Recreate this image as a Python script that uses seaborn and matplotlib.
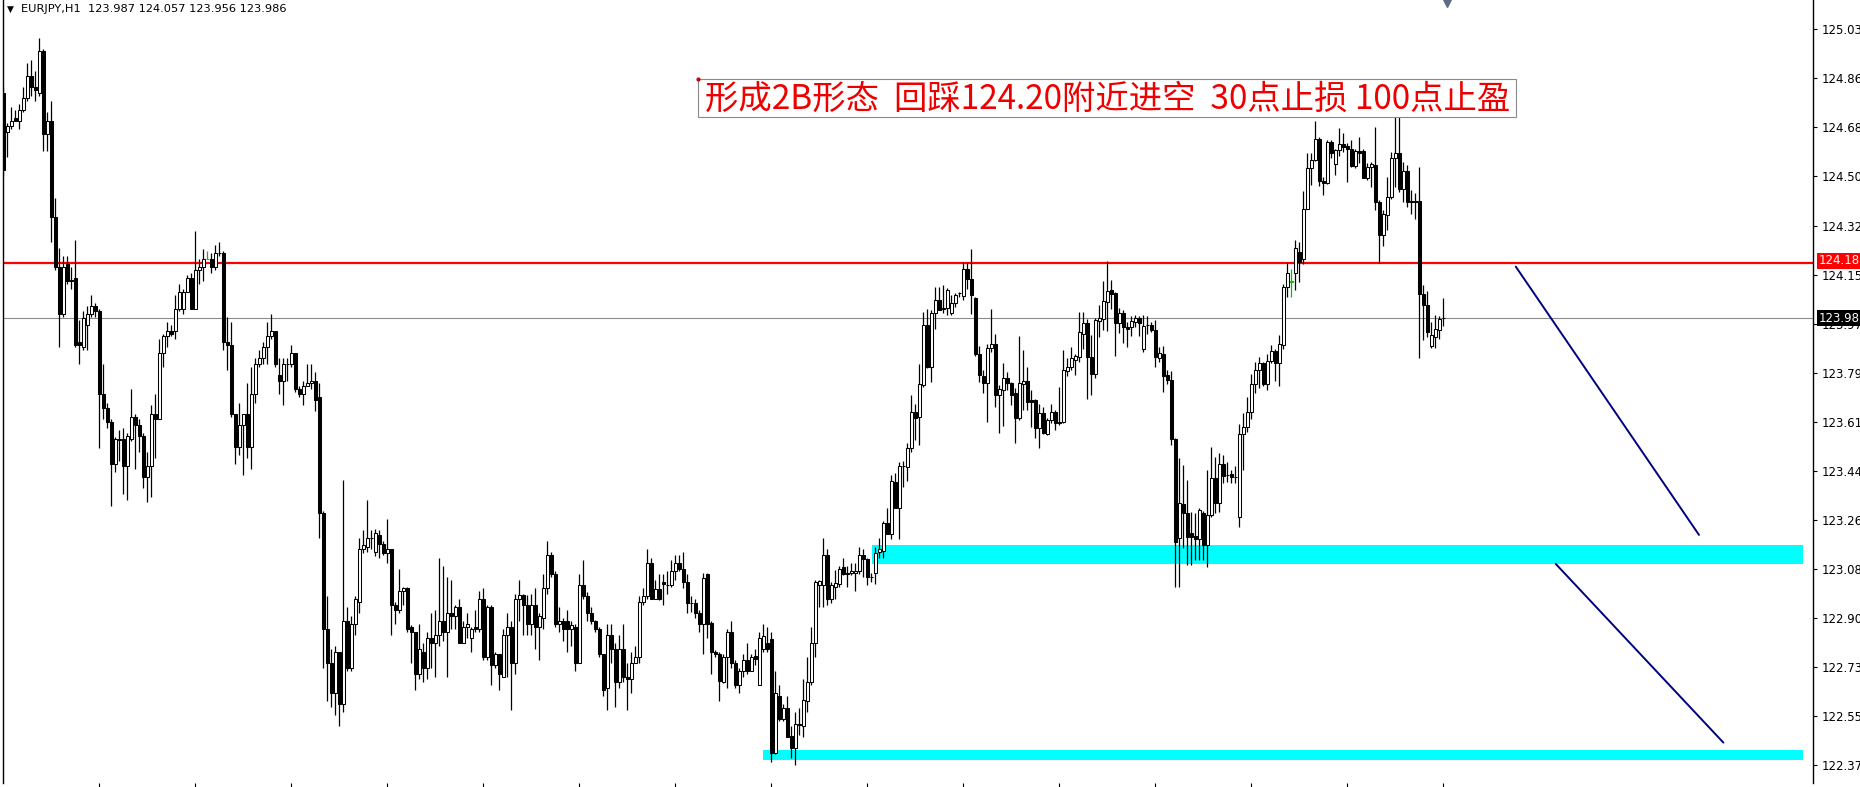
import numpy as np
import pandas as pd
import matplotlib
matplotlib.use('Agg')
import matplotlib.pyplot as plt
from matplotlib.patches import Rectangle
import seaborn as sns

# EURJPY H1 candles (oldest -> newest)
opens = [
    124.80, 124.66, 124.68, 124.71, 124.70, 124.74, 124.78, 124.86, 124.82, 124.80,
    124.95, 124.65, 124.70, 124.35, 124.17, 124.00, 124.18, 124.125, 124.13, 123.90,
    123.88, 123.96, 124.00, 124.03, 124.01, 123.71, 123.66, 123.61, 123.46, 123.55,
    123.55, 123.45, 123.55, 123.63, 123.60, 123.56, 123.41, 123.45, 123.64, 123.62,
    123.86, 123.92, 123.94, 123.94, 124.02, 124.02, 124.08, 124.13, 124.02, 124.16,
    124.17, 124.20, 124.20, 124.17, 124.22, 124.22, 123.90, 123.89, 123.64, 123.52,
    123.60, 123.64, 123.52, 123.71, 123.82, 123.84, 123.88, 123.92, 123.94, 123.78,
    123.76, 123.82, 123.82, 123.86, 123.73, 123.71, 123.74, 123.75, 123.76, 123.70,
    123.28, 122.86, 122.74, 122.63, 122.78, 122.59, 122.89, 122.72, 122.88, 122.96,
    123.15, 123.16, 123.19, 123.14, 123.20, 123.17, 123.135, 123.15, 122.95, 122.93,
    123.00, 123.01, 122.87, 122.85, 122.70, 122.78, 122.72, 122.83, 122.81, 122.84,
    122.89, 122.85, 122.92, 122.91, 122.94, 122.81, 122.87, 122.83, 122.87, 122.86,
    122.97, 122.76, 122.94, 122.73, 122.77, 122.69, 122.84, 122.87, 122.74, 122.97,
    122.985, 122.95, 122.88, 122.95, 122.87, 122.90, 123.01, 123.13, 123.06, 122.88,
    122.89, 122.89, 122.86, 122.87, 122.74, 123.02, 122.98, 122.92, 122.89, 122.86,
    122.77, 122.65, 122.84, 122.79, 122.67, 122.79, 122.69, 122.68, 122.74, 122.76,
    122.96, 122.98, 123.10, 122.97, 123.005, 123.03, 123.02, 123.02, 123.07, 123.10,
    123.08, 123.03, 122.955, 122.955, 122.92, 122.88, 123.06, 122.885, 122.78, 122.77,
    122.67, 122.76, 122.85, 122.74, 122.66, 122.71, 122.75, 122.71, 122.765, 122.66,
    122.79, 122.81, 122.825, 122.415, 122.62, 122.535, 122.575, 122.475, 122.43, 122.515,
    122.51, 122.60, 122.67, 122.81, 123.02, 123.02, 123.13, 122.97, 123.015, 123.025,
    123.085, 123.063, 123.063, 123.065, 123.07, 123.13, 123.115, 123.05, 123.063, 123.14,
    123.145, 123.245, 123.207, 123.395, 123.30, 123.45, 123.446, 123.515, 123.647, 123.627,
    123.744, 123.96, 123.81, 124.003, 124.053, 124.02, 124.024, 124.005, 124.039, 124.075,
    124.065, 124.165, 124.129, 124.057, 123.856, 123.776, 123.75, 123.876, 123.894, 123.707,
    123.726, 123.768, 123.75, 123.714, 123.623, 123.748, 123.76, 123.689, 123.689, 123.587,
    123.641, 123.567, 123.617, 123.647, 123.611, 123.611, 123.796, 123.81, 123.835, 123.846,
    123.93, 123.967, 123.846, 123.783, 123.976, 123.981, 124.045, 124.087, 124.075, 123.967,
    124.003, 123.954, 123.952, 123.973, 123.988, 123.873, 123.961, 123.961, 123.942, 123.84,
    123.856, 123.78, 123.762, 123.547, 123.19, 123.313, 123.28, 123.21, 123.198, 123.186,
    123.282, 123.165, 123.274, 123.406, 123.318, 123.46, 123.42, 123.422, 123.413, 123.268,
    123.567, 123.591, 123.647, 123.747, 123.80, 123.822, 123.747, 123.832, 123.868, 123.822,
    123.888, 124.097, 124.118, 124.15, 124.226, 124.198, 124.382, 124.527, 124.559, 124.632,
    124.482, 124.473, 124.623, 124.543, 124.593, 124.615, 124.608, 124.596, 124.535, 124.591,
    124.591, 124.494, 124.533, 124.539, 124.406, 124.286, 124.358, 124.422, 124.563, 124.584,
    124.451, 124.519, 124.41, 124.41, 124.41, 124.073, 124.033, 123.885, 123.918, 123.942,
    123.987,
]
highs = [
    124.82, 124.69, 124.75, 124.74, 124.76, 124.82, 124.91, 124.92, 124.88, 125.00,
    124.96, 124.73, 124.77, 124.42, 124.24, 124.21, 124.21, 124.17, 124.27, 123.98,
    124.01, 124.03, 124.07, 124.04, 124.02, 123.82, 123.68, 123.62, 123.555, 123.58,
    123.59, 123.57, 123.73, 123.64, 123.62, 123.57, 123.50, 123.67, 123.71, 123.91,
    123.93, 123.97, 123.96, 124.07, 124.11, 124.09, 124.14, 124.15, 124.30, 124.20,
    124.235, 124.23, 124.22, 124.25, 124.26, 124.23, 123.99, 123.97, 123.64, 123.68,
    123.64, 123.75, 123.81, 123.84, 123.87, 123.90, 123.97, 124.00, 123.94, 123.84,
    123.84, 123.84, 123.89, 123.86, 123.74, 123.76, 123.82, 123.82, 123.79, 123.75,
    123.29, 122.98, 122.79, 122.80, 122.78, 123.40, 122.94, 122.91, 122.98, 123.19,
    123.22, 123.33, 123.22, 123.225, 123.22, 123.18, 123.26, 123.15, 122.96, 123.08,
    123.015, 123.015, 122.875, 122.85, 122.88, 122.81, 122.85, 122.92, 122.93, 123.12,
    123.09, 123.05, 123.04, 122.95, 122.97, 122.89, 122.92, 122.87, 122.93, 123.00,
    123.01, 122.95, 122.95, 122.78, 122.77, 122.86, 122.92, 122.89, 122.99, 123.04,
    122.99, 122.985, 122.99, 123.01, 122.92, 123.06, 123.18, 123.14, 123.07, 122.94,
    122.90, 122.93, 122.89, 122.88, 123.06, 123.11, 122.995, 122.94, 122.895, 122.87,
    122.77, 122.88, 122.88, 122.81, 122.84, 122.88, 122.74, 122.78, 122.80, 122.98,
    123.01, 123.15, 123.12, 123.04, 123.06, 123.06, 123.07, 123.11, 123.13, 123.13,
    123.14, 123.06, 122.98, 122.97, 122.93, 123.065, 123.065, 122.89, 122.786, 122.78,
    122.77, 122.86, 122.89, 122.75, 122.72, 122.77, 122.81, 122.77, 122.79, 122.85,
    122.88, 122.87, 122.85, 122.71, 122.66, 122.59, 122.62, 122.51, 122.56, 122.575,
    122.68, 122.76, 122.87, 123.04, 123.04, 123.19, 123.15, 123.03, 123.075, 123.09,
    123.12, 123.09, 123.10, 123.10, 123.16, 123.15, 123.118, 123.063, 123.16, 123.19,
    123.253, 123.30, 123.418, 123.427, 123.466, 123.47, 123.533, 123.707, 123.677, 123.82,
    124.009, 124.017, 124.015, 124.10, 124.10, 124.105, 124.093, 124.069, 124.077, 124.081,
    124.19, 124.184, 124.234, 124.063, 123.885, 123.80, 123.894, 124.02, 123.928, 123.744,
    123.822, 123.79, 123.756, 123.732, 123.921, 123.87, 123.81, 123.726, 123.695, 123.677,
    123.665, 123.623, 123.677, 123.653, 123.735, 123.87, 123.84, 123.88, 123.856, 124.009,
    124.009, 123.981, 123.924, 123.988, 124.033, 124.121, 124.193, 124.123, 124.081, 124.021,
    124.015, 123.972, 123.993, 123.997, 123.993, 123.997, 123.993, 123.973, 123.979, 123.88,
    123.885, 123.798, 123.795, 123.551, 123.479, 123.454, 123.40, 123.286, 123.28, 123.298,
    123.29, 123.436, 123.521, 123.485, 123.497, 123.491, 123.467, 123.436, 123.451, 123.603,
    123.641, 123.699, 123.783, 123.828, 123.844, 123.828, 123.856, 123.888, 123.873, 123.924,
    124.109, 124.184, 124.165, 124.27, 124.262, 124.446, 124.582, 124.584, 124.699, 124.641,
    124.497, 124.629, 124.629, 124.599, 124.672, 124.654, 124.62, 124.629, 124.596, 124.639,
    124.596, 124.547, 124.551, 124.678, 124.412, 124.376, 124.497, 124.587, 124.716, 124.716,
    124.551, 124.539, 124.449, 124.437, 124.533, 124.105, 124.085, 123.973, 123.997, 123.993,
    124.057,
]
lows = [
    124.50, 124.57, 124.67, 124.70, 124.67, 124.73, 124.77, 124.79, 124.77, 124.79,
    124.59, 124.59, 124.26, 124.16, 123.88, 123.99, 124.11, 124.09, 123.88, 123.82,
    123.87, 123.87, 123.99, 123.99, 123.515, 123.62, 123.59, 123.305, 123.43, 123.47,
    123.35, 123.33, 123.54, 123.44, 123.50, 123.37, 123.32, 123.34, 123.48, 123.62,
    123.81, 123.88, 123.92, 123.91, 124.01, 124.00, 124.08, 124.02, 124.02, 124.11,
    124.12, 124.20, 124.15, 124.16, 124.21, 123.87, 123.80, 123.63, 123.46, 123.49,
    123.42, 123.48, 123.44, 123.68, 123.81, 123.82, 123.82, 123.91, 123.81, 123.71,
    123.67, 123.76, 123.81, 123.72, 123.70, 123.67, 123.74, 123.73, 123.65, 123.19,
    122.72, 122.60, 122.58, 122.55, 122.51, 122.56, 122.71, 122.71, 122.84, 122.92,
    123.135, 123.14, 123.15, 123.125, 123.12, 123.13, 123.10, 122.84, 122.88, 122.92,
    122.95, 122.85, 122.74, 122.64, 122.68, 122.67, 122.68, 122.72, 122.69, 122.80,
    122.82, 122.69, 122.86, 122.86, 122.81, 122.81, 122.83, 122.78, 122.85, 122.85,
    122.75, 122.75, 122.66, 122.72, 122.64, 122.69, 122.69, 122.57, 122.70, 122.89,
    122.84, 122.84, 122.84, 122.79, 122.75, 122.86, 122.99, 123.05, 122.87, 122.85,
    122.82, 122.78, 122.80, 122.71, 122.74, 122.97, 122.89, 122.88, 122.85, 122.76,
    122.62, 122.57, 122.74, 122.58, 122.65, 122.67, 122.57, 122.63, 122.74, 122.74,
    122.95, 122.97, 122.97, 122.97, 122.965, 122.95, 122.99, 123.015, 123.04, 123.07,
    123.01, 122.92, 122.925, 122.90, 122.85, 122.77, 122.83, 122.70, 122.76, 122.60,
    122.665, 122.65, 122.72, 122.65, 122.63, 122.69, 122.70, 122.71, 122.73, 122.66,
    122.78, 122.78, 122.38, 122.41, 122.53, 122.53, 122.47, 122.395, 122.37, 122.48,
    122.47, 122.56, 122.66, 122.76, 122.94, 122.94, 122.95, 122.955, 122.97, 123.015,
    123.057, 123.015, 123.057, 123.00, 123.06, 123.05, 123.02, 123.03, 123.025, 123.12,
    123.12, 123.205, 123.186, 123.298, 123.186, 123.376, 123.398, 123.503, 123.545, 123.527,
    123.738, 123.804, 123.756, 123.945, 124.014, 124.003, 123.997, 123.997, 124.027, 124.063,
    124.053, 124.09, 124.00, 123.849, 123.756, 123.714, 123.611, 123.864, 123.665, 123.569,
    123.595, 123.726, 123.671, 123.535, 123.617, 123.653, 123.653, 123.593, 123.551, 123.518,
    123.567, 123.563, 123.605, 123.581, 123.599, 123.605, 123.776, 123.798, 123.78, 123.828,
    123.873, 123.695, 123.708, 123.768, 123.918, 123.942, 123.94, 124.02, 123.848, 123.933,
    123.897, 123.882, 123.921, 123.955, 123.921, 123.864, 123.93, 123.936, 123.81, 123.828,
    123.72, 123.747, 123.527, 123.015, 123.015, 123.153, 123.093, 123.093, 123.11, 123.11,
    123.11, 123.087, 123.268, 123.28, 123.286, 123.388, 123.394, 123.388, 123.388, 123.229,
    123.436, 123.575, 123.62, 123.714, 123.732, 123.74, 123.726, 123.822, 123.76, 123.74,
    123.873, 124.063, 124.063, 124.087, 124.117, 124.181, 124.379, 124.467, 124.555, 124.463,
    124.431, 124.47, 124.563, 124.503, 124.572, 124.587, 124.479, 124.531, 124.527, 124.545,
    124.491, 124.487, 124.461, 124.376, 124.186, 124.246, 124.306, 124.415, 124.461, 124.443,
    124.406, 124.388, 124.364, 124.343, 123.84, 123.906, 123.916, 123.876, 123.876, 123.909,
    123.956,
]
closes = [
    124.52, 124.68, 124.70, 124.70, 124.74, 124.78, 124.86, 124.82, 124.81, 124.95,
    124.65, 124.70, 124.35, 124.17, 124.00, 124.17, 124.12, 124.12, 123.89, 123.89,
    123.985, 124.00, 124.03, 124.01, 123.71, 123.66, 123.61, 123.46, 123.55, 123.545,
    123.45, 123.56, 123.63, 123.60, 123.56, 123.41, 123.45, 123.64, 123.62, 123.86,
    123.92, 123.94, 123.93, 124.02, 124.08, 124.08, 124.13, 124.02, 124.16, 124.17,
    124.20, 124.20, 124.17, 124.22, 124.22, 123.90, 123.89, 123.64, 123.52, 123.60,
    123.64, 123.52, 123.71, 123.82, 123.84, 123.88, 123.92, 123.94, 123.82, 123.76,
    123.82, 123.82, 123.86, 123.73, 123.71, 123.74, 123.75, 123.76, 123.69, 123.28,
    122.86, 122.74, 122.63, 122.78, 122.59, 122.89, 122.72, 122.88, 122.97, 123.15,
    123.165, 123.19, 123.19, 123.21, 123.17, 123.135, 123.15, 122.95, 122.93, 123.00,
    123.01, 122.86, 122.85, 122.70, 122.79, 122.72, 122.83, 122.81, 122.84, 122.89,
    122.85, 122.92, 122.91, 122.94, 122.81, 122.87, 122.88, 122.86, 122.86, 122.97,
    122.76, 122.94, 122.73, 122.77, 122.70, 122.84, 122.87, 122.74, 122.97, 122.985,
    122.95, 122.88, 122.95, 122.87, 122.91, 123.01, 123.13, 123.06, 122.88, 122.89,
    122.86, 122.86, 122.875, 122.74, 123.02, 122.98, 122.92, 122.89, 122.86, 122.77,
    122.64, 122.84, 122.79, 122.67, 122.79, 122.69, 122.68, 122.74, 122.76, 122.96,
    122.98, 123.10, 122.97, 123.005, 122.97, 123.025, 123.02, 123.07, 123.10, 123.08,
    123.03, 122.955, 122.955, 122.92, 122.88, 123.045, 122.88, 122.78, 122.77, 122.675,
    122.76, 122.85, 122.74, 122.66, 122.71, 122.75, 122.71, 122.76, 122.755, 122.83,
    122.835, 122.79, 122.415, 122.63, 122.535, 122.575, 122.47, 122.43, 122.52, 122.52,
    122.605, 122.67, 122.81, 123.03, 123.035, 123.13, 122.97, 123.02, 123.027, 123.08,
    123.06, 123.061, 123.073, 123.07, 123.13, 123.115, 123.05, 123.05, 123.136, 123.15,
    123.245, 123.207, 123.398, 123.30, 123.45, 123.45, 123.515, 123.647, 123.623, 123.747,
    123.96, 123.81, 124.003, 124.053, 124.015, 124.021, 124.087, 124.039, 124.069, 124.075,
    124.165, 124.129, 124.069, 123.856, 123.78, 123.75, 123.876, 123.894, 123.707, 123.728,
    123.768, 123.75, 123.707, 123.623, 123.75, 123.76, 123.683, 123.683, 123.587, 123.644,
    123.571, 123.617, 123.647, 123.607, 123.607, 123.798, 123.81, 123.84, 123.848, 123.936,
    123.967, 123.846, 123.783, 123.979, 123.985, 124.049, 124.085, 124.072, 123.967, 124.005,
    123.952, 123.948, 123.976, 123.988, 123.969, 123.957, 123.96, 123.942, 123.844, 123.858,
    123.776, 123.762, 123.547, 123.177, 123.316, 123.28, 123.193, 123.193, 123.186, 123.292,
    123.165, 123.274, 123.406, 123.316, 123.46, 123.415, 123.418, 123.41, 123.41, 123.567,
    123.593, 123.647, 123.747, 123.80, 123.822, 123.747, 123.832, 123.868, 123.822, 123.892,
    124.097, 124.15, 124.12, 124.24, 124.19, 124.382, 124.527, 124.559, 124.632, 124.482,
    124.476, 124.623, 124.584, 124.593, 124.615, 124.603, 124.596, 124.535, 124.591, 124.584,
    124.494, 124.533, 124.543, 124.406, 124.286, 124.362, 124.422, 124.563, 124.584, 124.451,
    124.519, 124.406, 124.405, 124.405, 124.073, 124.033, 123.936, 123.925, 123.945, 123.981,
    123.986,
]
green_bars = [51, 322]   # the two bars drawn in green on the terminal

# price axis labels (MT4 grid, labels are rounded)
price_labels = ['125.03', '124.86', '124.68', '124.50', '124.32', '124.15', '123.97', '123.79',
                '123.61', '123.44', '123.26', '123.08', '122.90', '122.73', '122.55', '122.37']
grid_top = 125.03
grid_step = 0.17734

# drawn objects on the chart (bar index, price)
resistance = 124.185
last_bid = 123.986
zone_upper = (217.1, 123.097, 123.166)   # start bar, bottom, top
zone_lower = (190.0, 122.388, 122.424)
zone_end = 449.9
trend1_x = [378.1, 423.9]
trend1_y = [124.172, 123.202]
trend2_x = [388.1, 430.0]
trend2_y = [123.097, 122.451]
note_text = '形成2B形态  回踩124.20附近进空  30点止损 100点止盈'
header_text = 'EURJPY,H1  123.987 124.057 123.956 123.986'

df = pd.DataFrame({'open': opens, 'high': highs, 'low': lows, 'close': closes})
df['bar'] = np.arange(len(df))
df['up'] = df['close'] >= df['open']

sns.set_theme(style='white')
plt.rcParams['font.family'] = ['DejaVu Sans', 'Noto Sans CJK SC']

W, H = 1860, 787
fig = plt.figure(figsize=(W / 100, H / 100), dpi=100)
ax = fig.add_axes([2.7 / W, 4 / H, (1813 - 2.7) / W, 783 / H])
ax.set_facecolor('white')

# zones (background)
for x0, y0, y1 in [zone_upper, zone_lower]:
    ax.add_patch(Rectangle((x0, y0), zone_end - x0, y1 - y0, facecolor='#00ffff',
                           edgecolor='none', zorder=1))

# horizontal lines
ax.axhline(resistance, color='#ff0000', lw=1.6, zorder=2)
ax.axhline(last_bid, color='#8c8c8c', lw=0.8, zorder=2)

# candles
wick_colors = ['#00c000' if b in green_bars else 'black' for b in df['bar']]
ax.vlines(df['bar'], df['low'], df['high'], colors=wick_colors, lw=0.9, zorder=3)
body_bottom = df[['open', 'close']].min(axis=1)
body_height = (df['close'] - df['open']).abs()
face = np.where(df['up'], 'white', 'black')
edge = ['#00c000' if b in green_bars else 'black' for b in df['bar']]
ax.bar(df['bar'], body_height, bottom=body_bottom, width=0.62, color=face,
       edgecolor=edge, linewidth=0.75, zorder=4)

# trend lines
sns.lineplot(x=trend1_x, y=trend1_y, ax=ax, color='#000080', lw=1.4, zorder=5)
sns.lineplot(x=trend2_x, y=trend2_y, ax=ax, color='#000080', lw=1.4, zorder=5)

# text label with frame
box_x0, box_x1 = 173.7, 378.2
box_y0, box_y1 = 124.713, 124.85
ax.add_patch(Rectangle((box_x0, box_y0), box_x1 - box_x0, box_y1 - box_y0,
                       facecolor='white', edgecolor='#8a8a8a', lw=0.8, zorder=6))
ax.plot([box_x0], [box_y1], marker='o', ms=2, color='#d00000', zorder=7)
ax.text((box_x0 + box_x1) / 2, (box_y0 + box_y1) / 2 - 0.004, note_text, color='#ee0000',
        fontsize=24, ha='center', va='center', zorder=7,
        family=['Noto Sans CJK SC', 'DejaVu Sans'])

# axes styling
ax.set_xlim(-0.15, 452.4)
ax.set_ylim(122.305, 125.136)
for side in ['top', 'bottom']:
    ax.spines[side].set_visible(False)
for side in ['left', 'right']:
    ax.spines[side].set_visible(True)
    ax.spines[side].set_color('black')
    ax.spines[side].set_linewidth(1.0)
ax.yaxis.tick_right()
ax.set_yticks([grid_top - k * grid_step for k in range(len(price_labels))])
ax.set_yticklabels(price_labels)
ax.tick_params(axis='y', which='both', right=True, left=False, length=3, width=0.8,
               direction='out', pad=3, labelsize=8.5, colors='black')
ax.set_xticks(list(range(24, 361, 24)))
ax.set_xticklabels([])
ax.tick_params(axis='x', bottom=True, length=3, width=0.8, direction='out', colors='black')
ax.grid(False)

# price tags on the scale
ax.annotate('124.18', xy=(1.0, resistance), xycoords=('axes fraction', 'data'),
            xytext=(4, 1.5), textcoords='offset points', ha='left', va='center',
            fontsize=8.5, color='white', annotation_clip=False, zorder=10,
            bbox=dict(boxstyle='square,pad=0.12', fc='#ff0000', ec='none'))
ax.annotate('123.98', xy=(1.0, last_bid), xycoords=('axes fraction', 'data'),
            xytext=(4, 0), textcoords='offset points', ha='left', va='center',
            fontsize=8.5, color='white', annotation_clip=False, zorder=10,
            bbox=dict(boxstyle='square,pad=0.12', fc='black', ec='none'))

# shift marker at the top edge
ax.plot([361], [125.125], marker='v', ms=6, color='#5d6d84', clip_on=False, zorder=8)

# header
fig.text(7 / W, 1 - 9 / H, '\u25bc', fontsize=6.5, va='center', ha='left', color='black')
fig.text(21 / W, 1 - 9 / H, header_text, fontsize=8.2, va='center', ha='left', color='black')

fig.savefig('out.png', dpi=100, facecolor='white')
